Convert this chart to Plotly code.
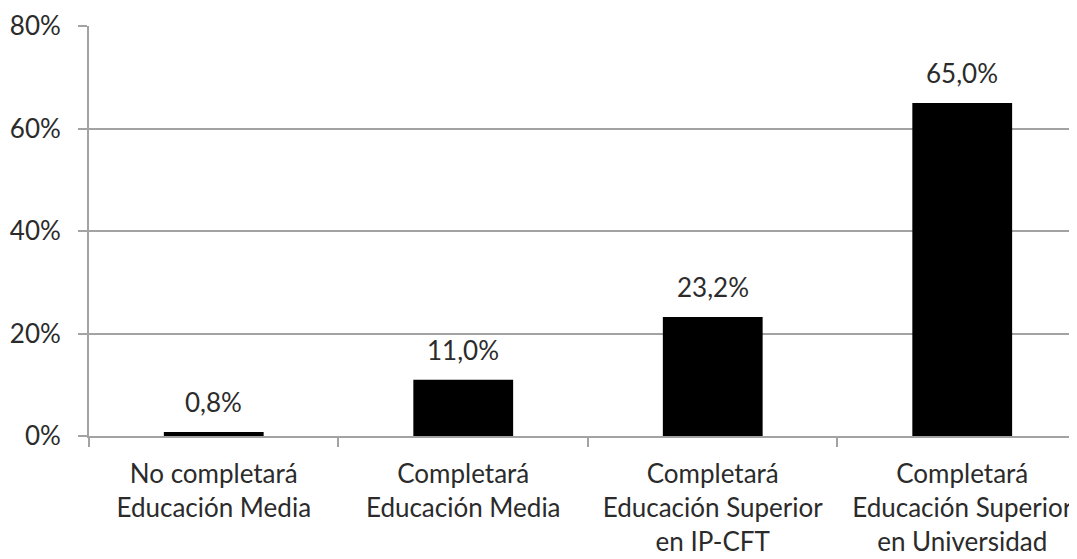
import plotly.graph_objects as go

categories = [
    "No completará<br>Educación Media",
    "Completará<br>Educación Media",
    "Completará<br>Educación Superior<br>en IP-CFT",
    "Completará<br>Educación Superior<br>en Universidad",
]
values = [0.008, 0.110, 0.232, 0.650]
y_ticks = [0, 0.2, 0.4, 0.6, 0.8]

FONT = "Lato, Open Sans, sans-serif"
GRID = "#a3a3a3"
TXT = "#2b2b2b"
FS = 26

labels = [f"{v * 100:.1f}%".replace(".", ",") for v in values]

fig = go.Figure(
    go.Bar(
        x=categories,
        y=values,
        marker=dict(color="black", line=dict(width=0)),
        width=0.40,
        hoverinfo="skip",
    )
)

for c, v, t in zip(categories, values, labels):
    fig.add_annotation(
        x=c, y=v, xref="x", yref="y", text=t, showarrow=False,
        yanchor="middle", yshift=30,
        font=dict(family=FONT, size=FS, color=TXT),
    )

# page body adds an 8px offset, so the figure is sized to fill the rest
fig.update_layout(
    width=1069,
    height=551,
    margin=dict(l=81, r=0, t=18, b=123, autoexpand=False),
    plot_bgcolor="white",
    paper_bgcolor="white",
    separators=",.",
    showlegend=False,
    font=dict(family=FONT, size=FS, color=TXT),
)
fig.update_xaxes(
    range=[-0.5, 3.46],
    automargin=False,
    showline=True,
    linecolor=GRID,
    linewidth=2,
    ticks="outside",
    tickson="boundaries",
    ticklen=9,
    tickcolor=GRID,
    tickwidth=2,
    showgrid=False,
    ticklabelstandoff=14,
    tickfont=dict(family=FONT, size=FS, color=TXT),
)
fig.update_yaxes(
    range=[0, 0.8],
    automargin=False,
    tickvals=y_ticks,
    tickformat=".0%",
    showline=True,
    linecolor=GRID,
    linewidth=2,
    ticks="outside",
    ticklen=9,
    tickcolor=GRID,
    tickwidth=2,
    showgrid=True,
    gridcolor=GRID,
    gridwidth=2,
    zeroline=False,
    ticklabelstandoff=12,
    tickfont=dict(family=FONT, size=FS, color=TXT),
)

fig.write_html("out.html")
